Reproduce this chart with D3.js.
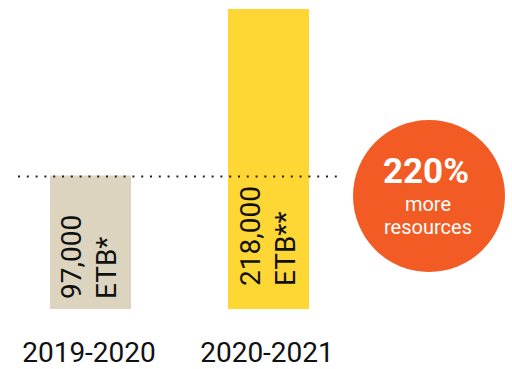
<!DOCTYPE html>
<html>
<head>
<meta charset="utf-8">
<script src="https://cdn.jsdelivr.net/npm/d3@7"></script>
<style>
  body { margin: 0; background: #fff; }
  text { font-family: Roboto, "Noto Sans", sans-serif; }
</style>
</head>
<body>
<div id="chart"></div>
<script>
// values
var years = ["2019-2020", "2020-2021"];
var amounts = [97000, 218000];
var amountLabels = ["97,000", "218,000"];
var unitLabels = ["ETB*", "ETB**"];
var barColors = ["#dcd4be", "#fed734"];
var badgeBig = "220%";
var badgeLines = ["more", "resources"];

var width = 512, height = 369;

var svg = d3.select("#chart").append("svg")
  .attr("width", width)
  .attr("height", height);

var x = d3.scaleBand()
  .domain(years)
  .range([50, 309])
  .paddingInner(0.545)
  .paddingOuter(0);

var y = d3.scaleLinear()
  .domain([0, d3.max(amounts)])
  .range([309, 9]);

var data = years.map(function (yr, i) {
  return { year: yr, value: amounts[i], label: amountLabels[i], unit: unitLabels[i], color: barColors[i] };
});

// bars
svg.selectAll("rect.bar")
  .data(data)
  .join("rect")
  .attr("class", "bar")
  .attr("x", function (d) { return x(d.year); })
  .attr("y", function (d) { return y(d.value); })
  .attr("width", x.bandwidth())
  .attr("height", function (d) { return y(0) - y(d.value); })
  .style("fill", function (d) { return d.color; });

// dotted reference line at the first year level
svg.append("line")
  .attr("x1", 18)
  .attr("x2", 342)
  .attr("y1", y(amounts[0]) + 1)
  .attr("y2", y(amounts[0]) + 1)
  .attr("stroke", "#222")
  .attr("stroke-width", 2)
  .attr("stroke-dasharray", "2 6.8");

// rotated value labels inside the bars
var textStart = [299, 286]; // where each rotated label begins (from bottom)
var g = svg.selectAll("g.lab")
  .data(data)
  .join("g")
  .attr("class", "lab")
  .attr("transform", function (d, i) {
    var cx = x(d.year) + x.bandwidth() / 2;
    return "translate(" + cx + "," + textStart[i] + ") rotate(-90)";
  });

g.append("text")
  .attr("x", 0)
  .attr("y", -9)
  .attr("font-size", 28)
  .attr("fill", "#111")
  .text(function (d) { return d.label; });

g.append("text")
  .attr("x", 0)
  .attr("y", 26)
  .attr("font-size", 28)
  .attr("fill", "#111")
  .text(function (d) { return d.unit; });

// category labels
svg.selectAll("text.year")
  .data(data)
  .join("text")
  .attr("class", "year")
  .attr("x", function (d) { return x(d.year) + x.bandwidth() / 2 - 1.5; })
  .attr("y", 362)
  .attr("text-anchor", "middle")
  .attr("font-size", 28)
  .attr("fill", "#111")
  .text(function (d) { return d.year; });

// badge
var badge = svg.append("g").attr("transform", "translate(429,196)");
badge.append("circle")
  .attr("r", 76)
  .attr("fill", "#f25b24");
badge.append("text")
  .attr("x", -3)
  .attr("y", -13)
  .attr("text-anchor", "middle")
  .attr("font-size", 35)
  .attr("font-weight", 700)
  .attr("fill", "#fff")
  .text(badgeBig);
badge.selectAll("text.sub")
  .data(badgeLines)
  .join("text")
  .attr("class", "sub")
  .attr("x", -1)
  .attr("y", function (d, i) { return 15 + i * 23; })
  .attr("text-anchor", "middle")
  .attr("font-size", 20)
  .attr("fill", "#fff")
  .text(function (d) { return d; });
</script>
</body>
</html>
